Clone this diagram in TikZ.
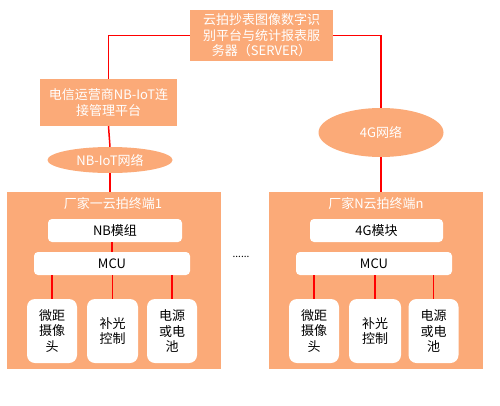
\documentclass[tikz,border=0pt]{standalone}
\usepackage{fontspec}
\setmainfont{Noto Sans CJK SC}
\usepackage{tikz}
\usetikzlibrary{positioning}
\usetikzlibrary{shapes.geometric}
\definecolor{boxorange}{RGB}{251,170,120}
\definecolor{linkred}{RGB}{255,0,0}
\tikzset{
  orangebox/.style={fill=boxorange,draw=none,text=white,align=center,inner sep=0pt},
  netellipse/.style={ellipse,fill=boxorange,draw=none,text=white,inner sep=0pt},
  termbox/.style={fill=boxorange,draw=none,inner sep=0pt,minimum width=214pt,minimum height=177pt},
  innerbox/.style={fill=white,draw=none,rounded corners=4pt,text=black,inner sep=0pt,minimum height=23pt},
  partbox/.style={fill=white,draw=none,rounded corners=8pt,text=black,align=center,inner sep=0pt,minimum width=50pt,minimum height=64pt},
  link/.style={draw=linkred,line width=1.5pt}
}
\begin{document}
\begin{tikzpicture}[x=1pt,y=-1pt,font=\fontsize{13}{15.5}\selectfont]
\useasboundingbox (0,0) rectangle (500,405);
% top level
\node[orangebox,minimum width=143pt,minimum height=51pt] (server) at (261.5,35.5) {云拍抄表图像数字识\\别平台与统计报表服\\务器（SERVER）};
\node[orangebox,minimum width=137pt,minimum height=47pt] (platform) at (108.5,102.5) {电信运营商NB-IoT连\\接管理平台};
\node[netellipse,minimum width=125pt,minimum height=26pt] (nbnet) at (110,160) {NB-IoT网络};
\node[netellipse,minimum width=125pt,minimum height=49pt] (gnet) at (381,132.5) {4G网络};
% terminal 1
\node[termbox] (term1) at (114,280.5) {};
\node[text=white] (title1) at (113,204) {厂家一云拍终端1};
\node[innerbox,minimum width=134pt] (nbmod) at (115,230.5) {NB模组};
\node[innerbox,minimum width=156pt] (mcu1) at (112,263.5) {MCU};
\node[partbox] (cam1) at (52,331) {微距\\摄像\\头};
\node[partbox,minimum width=51pt] (light1) at (112.5,331) {补光\\控制};
\node[partbox] (power1) at (172,331) {电源\\或电\\池};
% terminal n
\node[termbox] (termn) at (376,280.5) {};
\node[text=white] (titlen) at (376,204) {厂家N云拍终端n};
\node[innerbox,minimum width=133pt] (gmod) at (376.5,230.5) {4G模块};
\node[innerbox,minimum width=156pt] (mcun) at (374,263.5) {MCU};
\node[partbox] (camn) at (314,331) {微距\\摄像\\头};
\node[partbox,minimum width=52pt] (lightn) at (375,331) {补光\\控制};
\node[partbox] (powern) at (433.5,331) {电源\\或电\\池};
\node[font=\fontsize{10}{10}\selectfont] (dots) at (241,257) {......};
% connectors
\draw[link] (server.west) -| (platform.north);
\draw[link] (server.east) -| (gnet.north);
\draw[link] (platform.south) -- (nbnet.north);
\draw[link] (nbnet.south) -- (nbnet.south |- term1.north);
\draw[link] (gnet.south) -- (gnet.south |- termn.north);
\draw[link] (nbmod.south -| mcu1) -- (mcu1.north);
\draw[link] (gmod.south -| lightn) -- (gmod.south -| lightn |- mcun.north);
\foreach \p in {cam1,light1,power1}
  \draw[link] (mcu1.south -| \p) -- (\p.north);
\foreach \p in {camn,lightn,powern}
  \draw[link] (mcun.south -| \p) -- (\p.north);
\end{tikzpicture}
\end{document}
